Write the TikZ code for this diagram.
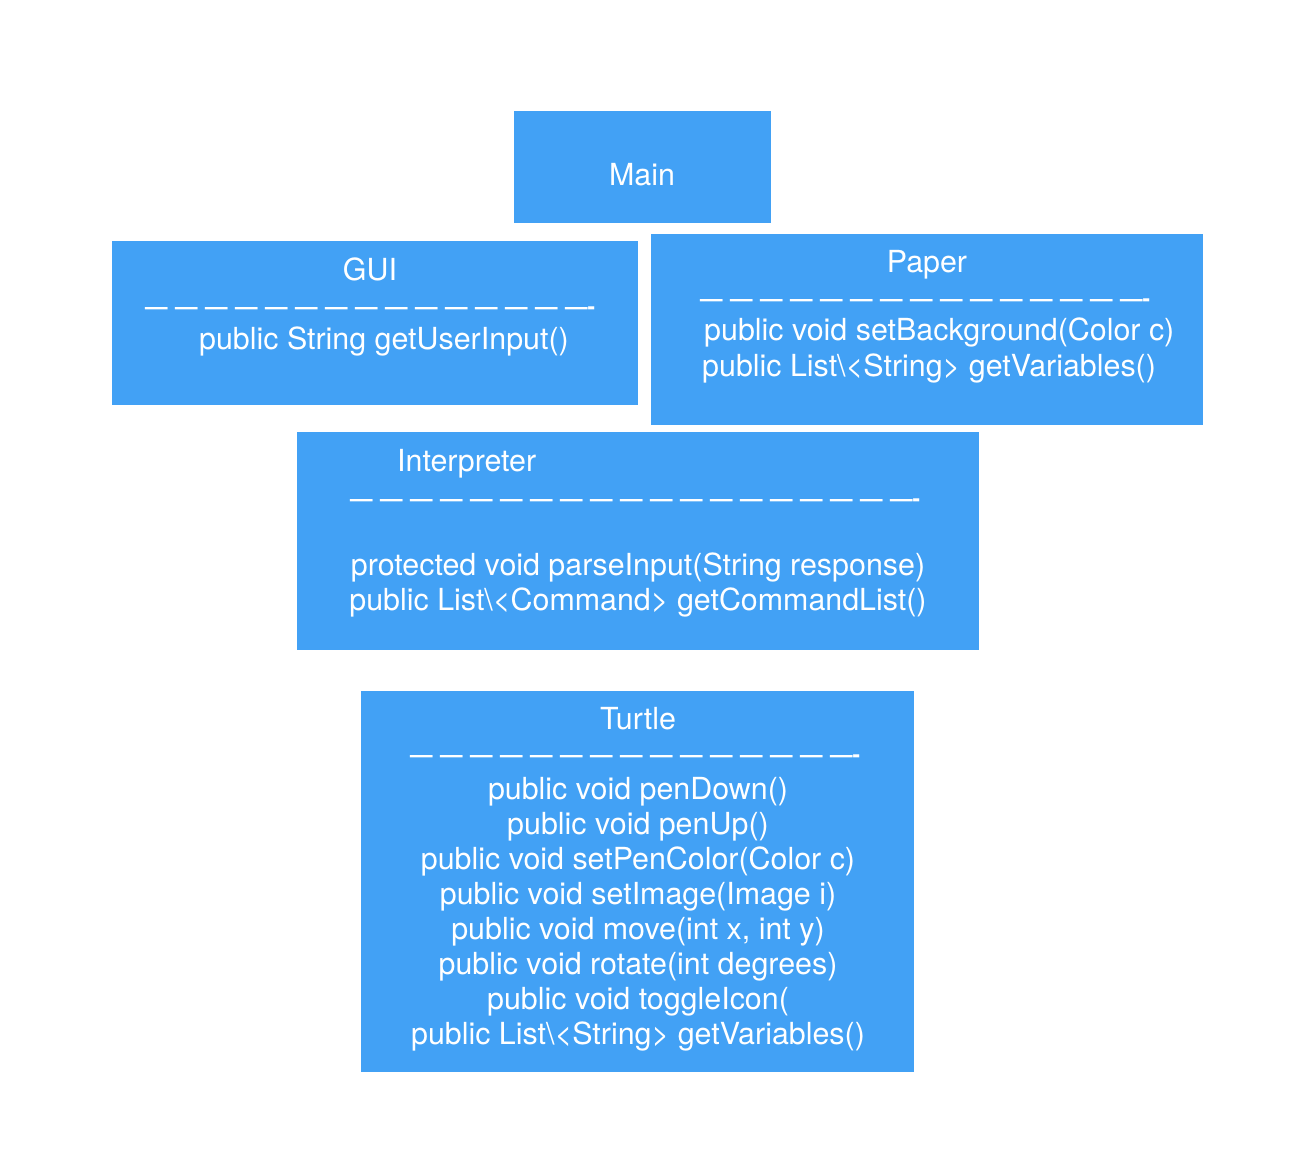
\documentclass[tikz,border=0pt]{standalone}
\usepackage{fontspec}
\setmainfont{TeX Gyre Heros}
\definecolor{boxblue}{RGB}{66,161,245}
\newcommand{\mydashfont}{\fontsize{22.5}{28}\selectfont\bfseries\spaceskip=7.5pt\relax}
\tikzset{
  umlbox/.style={fill=boxblue, draw=none, inner sep=0pt, outer sep=0pt, anchor=north west},
  txt/.style={text=white, inner sep=0pt, font=\fontsize{30.4}{35}\selectfont},
  dashrow/.style={text=white, inner sep=0pt, anchor=base west, font=\mydashfont},
}
\begin{document}
\begin{tikzpicture}[x=1pt,y=-1pt]
\useasboundingbox (0,0) rectangle (1312,1168);
% boxes
\node[umlbox, minimum width=257pt, minimum height=112pt] (main) at (514,111) {};
\node[umlbox, minimum width=526pt, minimum height=164pt] (gui) at (112,241) {};
\node[umlbox, minimum width=552pt, minimum height=191pt] (paper) at (651,234) {};
\node[umlbox, minimum width=682pt, minimum height=218pt] (interp) at (297,432) {};
\node[umlbox, minimum width=553pt, minimum height=381pt] (turtle) at (361,691) {};
% Main
\node[txt, anchor=base] (mainT) at (642,185) {Main};
% GUI
\node[txt, anchor=base] (guiT) at (370,280) {GUI};
\node[dashrow] (guiD) at (145,314) {— — — — — — — — — — — — — — —-};
\node[txt, anchor=base] (guiM) at (384,349) {public String getUserInput()};
% Paper
\node[txt, anchor=base] (paperT) at (927,272) {Paper};
\node[dashrow] (paperD) at (700,306) {— — — — — — — — — — — — — — —-};
\node[txt, anchor=base west] (paperM1) at (704,340) {public void setBackground(Color c)};
\node[txt, anchor=base west] (paperM2) at (702,376) {public List\textbackslash{}<String> getVariables()};
% Interpreter
\node[txt, anchor=base west] (interpT) at (397,471) {Interpreter};
\node[dashrow] (interpD) at (350,506) {— — — — — — — — — — — — — — — — — — —-};
\node[txt, anchor=base] (interpM1) at (638,575) {protected void parseInput(String response)};
\node[txt, anchor=base] (interpM2) at (638,610) {public List\textbackslash{}<Command> getCommandList()};
% Turtle
\node[txt, anchor=base] (turtleT) at (638,729) {Turtle};
\node[dashrow] (turtleD) at (410,762) {— — — — — — — — — — — — — — —-};
\node[txt, anchor=base] (t1) at (638,799) {public void penDown()};
\node[txt, anchor=base] (t2) at (638,834) {public void penUp()};
\node[txt, anchor=base] (t3) at (638,869) {public void setPenColor(Color c)};
\node[txt, anchor=base] (t4) at (638,904) {public void setImage(Image i)};
\node[txt, anchor=base] (t5) at (638,939) {public void move(int x, int y)};
\node[txt, anchor=base] (t6) at (638,974) {public void rotate(int degrees)};
\node[txt, anchor=base] (t7) at (638,1009) {public void toggleIcon(};
\node[txt, anchor=base] (t8) at (638,1044) {public List\textbackslash{}<String> getVariables()};
\end{tikzpicture}
\end{document}
